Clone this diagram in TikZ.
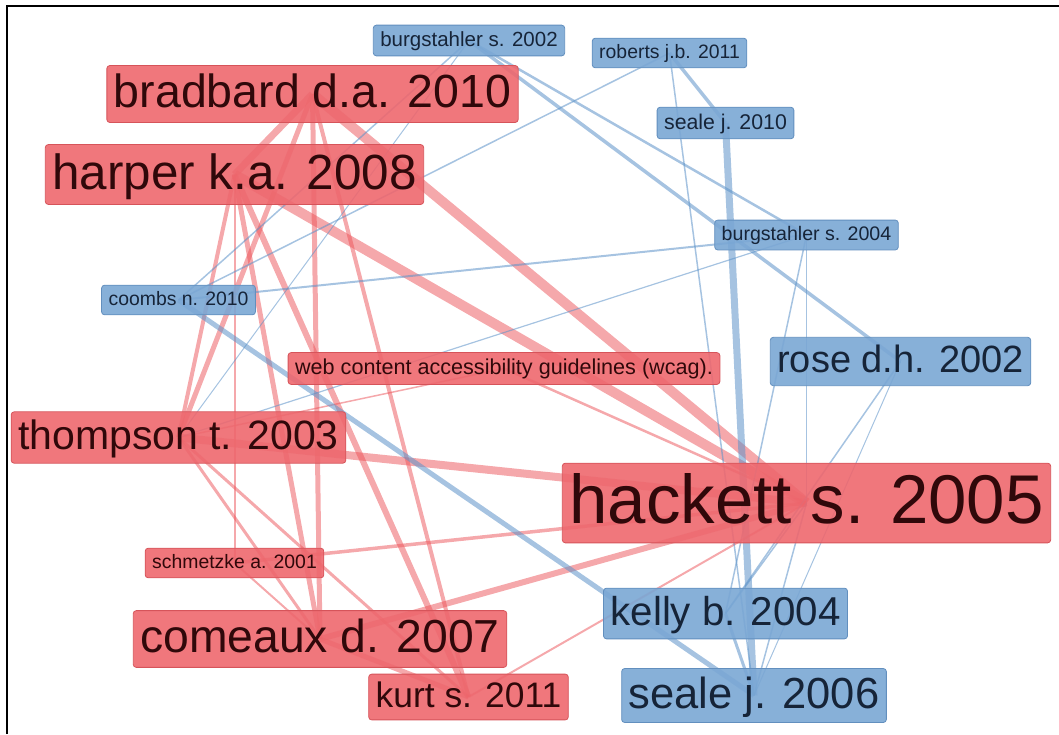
\documentclass[tikz,border=0pt]{standalone}
\usepackage{fontspec}
\setmainfont{Liberation Sans}
\usepackage{xcolor}

\definecolor{nodeRed}{RGB}{238,104,110}
\definecolor{nodeRedLine}{RGB}{214,84,90}
\definecolor{textRed}{RGB}{48,8,10}
\definecolor{nodeBlue}{RGB}{122,167,212}
\definecolor{nodeBlueLine}{RGB}{98,143,190}
\definecolor{textBlue}{RGB}{22,36,56}
\definecolor{linkRed}{RGB}{236,82,88}
\definecolor{linkBlue}{RGB}{92,146,200}

\pgfdeclarelayer{links}
\pgfsetlayers{links,main}

\tikzset{
  paper/.style={rounded corners=3pt, inner xsep=7pt, inner ysep={5pt-0.06*#1pt},
    text height={0.86*#1pt}, text depth={0.27*#1pt},
    font=\fontsize{#1}{#1}\selectfont, line width=0.8pt, fill opacity=0.9, text opacity=1},
  redpaper/.style={paper=#1, fill=nodeRed, draw=nodeRedLine, text=textRed},
  bluepaper/.style={paper=#1, fill=nodeBlue, draw=nodeBlueLine, text=textBlue},
  redlink/.style={draw=linkRed, draw opacity=0.5, line width=#1pt},
  bluelink/.style={draw=linkBlue, draw opacity=0.55, line width=#1pt},
}

\begin{document}
\begin{tikzpicture}[x=1pt, y=-1pt]
    \useasboundingbox (0,0) rectangle (1059,734);
    % Frame
    \draw[line width=2pt] (7,734) -- (7,6) -- (1059,6);

    % Red cluster
    \node[redpaper=69] (hack05) at (806.5,503) {hackett s. 2005};
    \node[redpaper=46.5] (brad10) at (312.5,94) {bradbard d.a. 2010};
    \node[redpaper=49.4] (harp08) at (234.5,174.5) {harper k.a. 2008};
    \node[redpaper=41] (thom03) at (178.5,437.5) {thompson t. 2003};
    \node[redpaper=46.3] (come07) at (320,639) {comeaux d. 2007};
    \node[redpaper=35.4] (kurt11) at (468.5,697) {kurt s. 2011};
    \node[redpaper=19.4] (schm01) at (234.5,563) {schmetzke a. 2001};
    \node[redpaper=21.6] (wcag) at (504,368.5) {web content accessibility guidelines (wcag).};

    % Blue cluster
    \node[bluepaper=20.5] (burg02) at (469,40.5) {burgstahler s. 2002};
    \node[bluepaper=19.4] (robe11) at (669.5,53) {roberts j.b. 2011};
    \node[bluepaper=21.3] (seal10) at (725.5,123) {seale j. 2010};
    \node[bluepaper=19.6] (burg04) at (806.5,235) {burgstahler s. 2004};
    \node[bluepaper=38] (rose02) at (900.5,361.5) {rose d.h. 2002};
    \node[bluepaper=19.4] (coom10) at (178.5,300) {coombs n. 2010};
    \node[bluepaper=40.3] (kell04) at (725.5,613.5) {kelly b. 2004};
    \node[bluepaper=43.5] (seal06) at (754,695.5) {seale j. 2006};

    % Links behind the labels
    \begin{pgfonlayer}{links}
        \draw[redlink=10] (brad10.center) -- (hack05.center);
        \draw[redlink=10] (harp08.center) -- (hack05.center);
        \draw[redlink=8] (thom03.center) -- (hack05.center);
        \draw[redlink=7] (brad10.center) -- (harp08.center);
        \draw[redlink=6] (come07.center) -- (hack05.center);
        \draw[redlink=5] (come07.center) -- (kurt11.center);
        \draw[redlink=5] (brad10.center) -- (come07.center);
        \draw[redlink=5] (harp08.center) -- (come07.center);
        \draw[redlink=6] (harp08.center) -- (kurt11.center);
        \draw[redlink=4] (brad10.center) -- (kurt11.center);
        \draw[redlink=5] (brad10.center) -- (thom03.center);
        \draw[redlink=4] (harp08.center) -- (thom03.center);
        \draw[redlink=3] (thom03.center) -- (come07.center);
        \draw[redlink=3] (thom03.center) -- (kurt11.center);
        \draw[redlink=3.5] (schm01.center) -- (hack05.center);
        \draw[redlink=2] (schm01.center) -- (come07.center);
        \draw[redlink=2] (harp08.center) -- (schm01.center);
        \draw[redlink=2] (kurt11.center) -- (hack05.center);
        \draw[redlink=2.5] (wcag.center) -- (hack05.center);
        \draw[redlink=1.5] (thom03.center) -- (wcag.center);

        \draw[bluelink=3.5] (burg02.center) -- (rose02.center);
        \draw[bluelink=2.5] (burg02.center) -- (burg04.center);
        \draw[bluelink=1.5] (burg02.center) -- (coom10.center);
        \draw[bluelink=1] (burg02.center) -- (thom03.center);
        \draw[bluelink=1.5] (robe11.center) -- (coom10.center);
        \draw[bluelink=3.5] (robe11.center) -- (seal10.center);
        \draw[bluelink=1.5] (robe11.center) -- (seal06.center);
        \draw[bluelink=7] (seal10.center) -- (seal06.center);
        \draw[bluelink=2] (burg04.center) -- (coom10.center);
        \draw[bluelink=1.2] (burg04.center) -- (thom03.center);
        \draw[bluelink=1.5] (burg04.center) -- (hack05.center);
        \draw[bluelink=1.5] (burg04.center) -- (kell04.center);
        \draw[bluelink=1.5] (rose02.center) -- (kell04.center);
        \draw[bluelink=1] (rose02.center) -- (seal06.center);
        \draw[bluelink=5] (coom10.center) -- (seal06.center);
        \draw[bluelink=1.5] (hack05.center) -- (kell04.center);
        \draw[bluelink=1.5] (hack05.center) -- (seal06.center);
        \draw[bluelink=3] (kell04.center) -- (seal06.center);
    \end{pgfonlayer}
\end{tikzpicture}
\end{document}
